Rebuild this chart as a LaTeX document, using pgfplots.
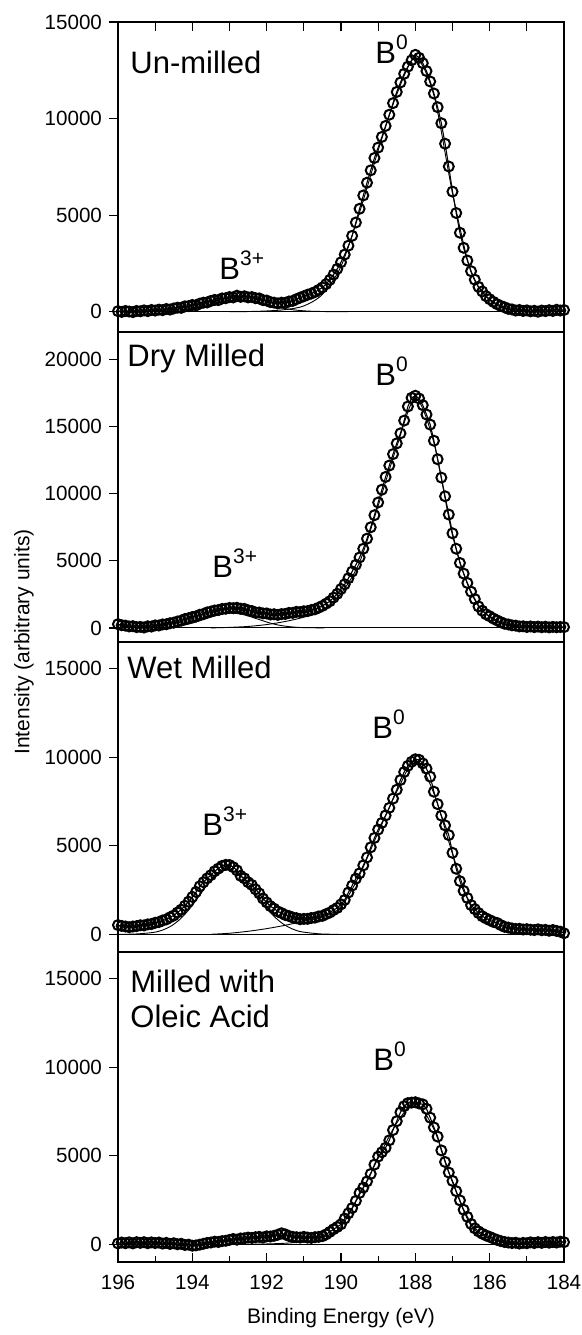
\documentclass[border=0pt]{standalone}
\usepackage{fontspec}
\setmainfont{Liberation Sans}
\usepackage{pgfplots}
\usepackage{pgfplotstable}
\pgfplotsset{compat=1.18}

\pgfplotstableread[row sep=\\]{
E y\\
196.0 30\\195.9 -10\\195.8 40\\195.7 10\\195.6 -20\\195.5 40\\195.4 20\\195.3 70\\195.2 30\\195.1 90\\
195.0 60\\194.9 110\\194.8 80\\194.7 140\\194.6 110\\194.5 170\\194.4 210\\194.3 200\\194.2 280\\194.1 290\\
194.0 350\\193.9 330\\193.8 420\\193.7 470\\193.6 480\\193.5 560\\193.4 610\\193.3 600\\193.2 690\\193.1 700\\
193.0 760\\192.9 740\\192.8 830\\192.7 770\\192.6 800\\192.5 740\\192.4 760\\192.3 700\\192.2 690\\192.1 600\\
192.0 580\\191.9 500\\191.8 470\\191.7 430\\191.6 470\\191.5 460\\191.4 530\\191.3 560\\191.2 650\\191.1 730\\
191.0 800\\190.9 880\\190.8 940\\190.7 1020\\190.6 1130\\190.5 1260\\190.4 1430\\190.3 1650\\190.2 1920\\190.1 2220\\
190.0 2560\\189.9 2960\\189.8 3420\\189.7 3930\\189.6 4620\\189.5 5330\\189.4 6020\\189.3 6680\\189.2 7320\\189.1 7960\\
189.0 8500\\188.9 9050\\188.8 9620\\188.7 10200\\188.6 10800\\188.5 11380\\188.4 11870\\188.3 12320\\188.2 12690\\188.1 13020\\
188.0 13300\\187.9 13150\\187.8 12870\\187.7 12460\\187.6 11920\\187.5 11300\\187.4 10590\\187.3 9760\\187.2 8700\\187.1 7520\\
187.0 6220\\186.9 5110\\186.8 4090\\186.7 3310\\186.6 2650\\186.5 2100\\186.4 1660\\186.3 1290\\186.2 1050\\186.1 810\\
186.0 650\\185.9 510\\185.8 390\\185.7 300\\185.6 230\\185.5 150\\185.4 120\\185.3 60\\185.2 90\\185.1 40\\
185.0 70\\184.9 20\\184.8 50\\184.7 0\\184.6 60\\184.5 30\\184.4 80\\184.3 40\\184.2 100\\184.1 60\\184.0 90\\
}\dA

\pgfplotstableread[row sep=\\]{
E y\\
196.0 280\\195.9 200\\195.8 170\\195.7 110\\195.6 130\\195.5 60\\195.4 80\\195.3 30\\195.2 120\\195.1 100\\
195.0 190\\194.9 180\\194.8 260\\194.7 270\\194.6 350\\194.5 390\\194.4 480\\194.3 540\\194.2 660\\194.1 720\\
194.0 810\\193.9 860\\193.8 980\\193.7 1040\\193.6 1160\\193.5 1220\\193.4 1300\\193.3 1330\\193.2 1410\\193.1 1430\\
193.0 1490\\192.9 1470\\192.8 1500\\192.7 1430\\192.6 1420\\192.5 1310\\192.4 1260\\192.3 1150\\192.2 1150\\192.1 1080\\
192.0 1080\\191.9 1000\\191.8 1020\\191.7 970\\191.6 1030\\191.5 1040\\191.4 1120\\191.3 1120\\191.2 1200\\191.1 1180\\
191.0 1240\\190.9 1250\\190.8 1330\\190.7 1390\\190.6 1510\\190.5 1640\\190.4 1810\\190.3 1990\\190.2 2260\\190.1 2540\\
190.0 2900\\189.9 3250\\189.8 3700\\189.7 4200\\189.6 4700\\189.5 5250\\189.4 5900\\189.3 6650\\189.2 7500\\189.1 8400\\
189.0 9350\\188.9 10300\\188.8 11250\\188.7 12100\\188.6 12950\\188.5 13750\\188.4 14500\\188.3 15450\\188.2 16500\\188.1 17150\\
188.0 17300\\187.9 17100\\187.8 16600\\187.7 15900\\187.6 15150\\187.5 13950\\187.4 12570\\187.3 11200\\187.2 9810\\187.1 8450\\
187.0 7050\\186.9 5900\\186.8 4840\\186.7 4050\\186.6 3350\\186.5 2700\\186.4 2150\\186.3 1600\\186.2 1280\\186.1 1020\\
186.0 870\\185.9 700\\185.8 560\\185.7 430\\185.6 310\\185.5 260\\185.4 190\\185.3 170\\185.2 110\\185.1 120\\
185.0 70\\184.9 110\\184.8 60\\184.7 100\\184.6 50\\184.5 90\\184.4 40\\184.3 80\\184.2 50\\184.1 70\\184.0 60\\
}\dB

\pgfplotstableread[row sep=\\]{
E y\\
196.0 520\\195.9 470\\195.8 440\\195.7 400\\195.6 440\\195.5 460\\195.4 510\\195.3 500\\195.2 560\\195.1 580\\
195.0 650\\194.9 690\\194.8 780\\194.7 840\\194.6 960\\194.5 1060\\194.4 1230\\194.3 1390\\194.2 1610\\194.1 1840\\
194.0 2110\\193.9 2390\\193.8 2710\\193.7 2940\\193.6 3160\\193.5 3340\\193.4 3560\\193.3 3710\\193.2 3860\\193.1 3920\\
193.0 3910\\192.9 3790\\192.8 3610\\192.7 3300\\192.6 3160\\192.5 2940\\192.4 2790\\192.3 2540\\192.2 2310\\192.1 2020\\
192.0 1800\\191.9 1590\\191.8 1450\\191.7 1290\\191.6 1200\\191.5 1090\\191.4 1030\\191.3 950\\191.2 910\\191.1 850\\
191.0 870\\190.9 870\\190.8 920\\190.7 940\\190.6 1010\\190.5 1040\\190.4 1140\\190.3 1230\\190.2 1370\\190.1 1490\\
190.0 1690\\189.9 1940\\189.8 2360\\189.7 2750\\189.6 3140\\189.5 3440\\189.4 3890\\189.3 4340\\189.2 4910\\189.1 5440\\
189.0 5910\\188.9 6290\\188.8 6710\\188.7 7140\\188.6 7660\\188.5 8160\\188.4 8710\\188.3 9160\\188.2 9510\\188.1 9740\\
188.0 9880\\187.9 9850\\187.8 9650\\187.7 9350\\187.6 8900\\187.5 8050\\187.4 7350\\187.3 6700\\187.2 6150\\187.1 5600\\
187.0 4600\\186.9 3700\\186.8 3000\\186.7 2450\\186.6 2050\\186.5 1650\\186.4 1420\\186.3 1200\\186.2 1020\\186.1 900\\
186.0 800\\185.9 700\\185.8 640\\185.7 520\\185.6 420\\185.5 380\\185.4 330\\185.3 300\\185.2 310\\185.1 270\\
185.0 290\\184.9 260\\184.8 240\\184.7 280\\184.6 230\\184.5 250\\184.4 200\\184.3 240\\184.2 190\\184.1 150\\184.0 60\\
}\dC

\pgfplotstableread[row sep=\\]{
E y\\
196.0 50\\195.9 100\\195.8 60\\195.7 110\\195.6 50\\195.5 120\\195.4 80\\195.3 120\\195.2 60\\195.1 110\\
195.0 70\\194.9 100\\194.8 40\\194.7 80\\194.6 20\\194.5 60\\194.4 0\\194.3 30\\194.2 -40\\194.1 -20\\
194.0 -80\\193.9 -60\\193.8 -20\\193.7 30\\193.6 80\\193.5 100\\193.4 150\\193.3 130\\193.2 180\\193.1 200\\
193.0 250\\192.9 300\\192.8 260\\192.7 330\\192.6 340\\192.5 380\\192.4 360\\192.3 400\\192.2 420\\192.1 380\\
192.0 450\\191.9 440\\191.8 480\\191.7 540\\191.6 620\\191.5 560\\191.4 470\\191.3 420\\191.2 400\\191.1 380\\
191.0 420\\190.9 380\\190.8 360\\190.7 400\\190.6 420\\190.5 460\\190.4 560\\190.3 700\\190.2 850\\190.1 980\\
190.0 1130\\189.9 1450\\189.8 1750\\189.7 2050\\189.6 2450\\189.5 2900\\189.4 3200\\189.3 3550\\189.2 3970\\189.1 4500\\
189.0 4950\\188.9 5200\\188.8 5450\\188.7 5870\\188.6 6450\\188.5 6950\\188.4 7450\\188.3 7800\\188.2 7970\\188.1 8000\\
188.0 8020\\187.9 7950\\187.8 7900\\187.7 7650\\187.6 7150\\187.5 6600\\187.4 6080\\187.3 5300\\187.2 4650\\187.1 4050\\
187.0 3580\\186.9 3000\\186.8 2480\\186.7 1950\\186.6 1550\\186.5 1150\\186.4 900\\186.3 730\\186.2 600\\186.1 500\\
186.0 420\\185.9 330\\185.8 250\\185.7 180\\185.6 130\\185.5 100\\185.4 70\\185.3 90\\185.2 40\\185.1 80\\
185.0 60\\184.9 110\\184.8 70\\184.7 120\\184.6 80\\184.5 130\\184.4 90\\184.3 130\\184.2 100\\184.1 150\\184.0 120\\
}\dD

\pgfplotsset{
  panel/.style={
    width=223pt, height=155pt, scale only axis,
    x dir=reverse, xmin=184, xmax=196,
    clip=false,
    axis line style={line width=0.75pt},
    ytick pos=left, ytick align=outside, xtick align=inside,
    major tick length=4.5pt, minor tick length=3.2pt,
    every tick/.append style={black, line width=0.65pt},
    ticklabel style={font=\fontsize{10.3}{12}\selectfont},
    /pgf/number format/assume math mode=true,
    /pgf/number format/set thousands separator={},
    scaled y ticks=false,
  },
  dat/.style={only marks, mark=o, mark size=2.5pt, mark options={line width=1pt, black}},
  fitl/.style={black, line width=0.55pt, no marks},
  comp/.style={black, line width=0.45pt, no marks, smooth},
}

\newcommand{\lab}[1]{\fontsize{15.5}{17}\selectfont #1}
\newcommand{\Bz}{\fontsize{15.5}{17}\selectfont B\raisebox{7pt}{\fontsize{10.5}{11}\selectfont 0}}
\newcommand{\Bt}{\fontsize{15.5}{17}\selectfont B\raisebox{7pt}{\fontsize{10.5}{11}\selectfont 3+}}

\begin{document}
\begin{tikzpicture}
\path[use as bounding box] (0pt,0pt) rectangle (291pt,-667.5pt);

% Panel 1: Un-milled
\begin{axis}[panel, at={(59pt,-11pt)}, anchor=north west,
  ymin=-1050, ymax=15000, ytick={0,5000,10000,15000},
  xtick={184,185,...,196}, xtick pos=right, xticklabels={}, minor xtick={}]
\addplot[fitl] coordinates {(196,0) (184,0)};
\addplot[comp] coordinates {(195.8,0) (195.3,5) (194.8,26) (194.55,55) (194.3,103) (194.05,177) (193.8,275) (193.55,387) (193.3,494) (193.05,571) (192.8,600) (192.55,571) (192.3,494) (192.05,387) (191.8,275) (191.55,177) (191.3,103) (191.05,55) (190.8,26) (190.3,5) (189.8,0)};
\addplot[comp] coordinates {(193.0,0) (192.5,10) (192.0,40) (191.5,110) (191.0,300) (190.5,900) (190.0,2350) (189.5,5150) (189.0,8350) (188.5,11250) (188.0,13150) (187.5,11200) (187.0,6150) (186.5,2050) (186.0,600) (185.5,120) (185.0,10) (184.5,0)};
\addplot[fitl] table[x=E,y=y]{\dA};
\addplot[dat] table[x=E,y=y]{\dA};
\end{axis}

% Panel 2: Dry milled
\begin{axis}[panel, at={(59pt,-166pt)}, anchor=north west,
  ymin=-1050, ymax=22050, ytick={0,5000,10000,15000,20000},
  xtick=\empty, minor xtick={}]
\addplot[fitl] coordinates {(196,0) (184,0)};
\addplot[comp] coordinates {(195.45,2) (194.95,19) (194.7,48) (194.45,111) (194.2,223) (193.95,396) (193.7,620) (193.45,852) (193.2,1032) (192.95,1100) (192.7,1032) (192.45,852) (192.2,620) (191.95,396) (191.7,223) (191.45,111) (191.2,48) (190.95,19) (190.45,2)};
\addplot[comp] coordinates {(193.5,0) (193.0,40) (192.5,110) (192.0,250) (191.5,480) (191.0,800) (190.5,1300) (190.0,2550) (189.5,4900) (189.0,9100) (188.5,13500) (188.0,17100) (187.5,13800) (187.0,6900) (186.5,2600) (186.0,800) (185.5,180) (185.0,30) (184.5,0)};
\addplot[fitl] table[x=E,y=y]{\dB};
\addplot[dat] table[x=E,y=y]{\dB};
\end{axis}

% Panel 3: Wet milled
\begin{axis}[panel, at={(59pt,-321pt)}, anchor=north west,
  ymin=-1000, ymax=16500, ytick={0,5000,10000,15000},
  xtick=\empty, minor xtick={}]
\addplot[fitl] coordinates {(196,0) (184,0)};
\addplot[comp] coordinates {(196.05,0) (195.55,14) (195.05,104) (194.8,240) (194.55,494) (194.3,910) (194.05,1500) (193.8,2214) (193.55,2923) (193.3,3453) (193.05,3650) (192.8,3467) (192.55,2973) (192.3,2299) (192.05,1605) (191.8,1011) (191.55,575) (191.3,295) (191.05,136) (190.55,21) (190.05,0)};
\addplot[comp] coordinates {(193.5,0) (193.0,60) (192.5,170) (192.0,320) (191.5,510) (191.0,740) (190.5,990) (190.0,1550) (189.5,3350) (189.0,5750) (188.5,8050) (188.0,9800) (187.5,7950) (187.0,4550) (186.5,1550) (186.0,600) (185.5,180) (185.0,40) (184.5,0)};
\addplot[fitl] table[x=E,y=y]{\dC};
\addplot[dat] table[x=E,y=y]{\dC};
\end{axis}

% Panel 4: Milled with oleic acid
\begin{axis}[panel, at={(59pt,-476pt)}, anchor=north west,
  ymin=-1000, ymax=16500, ytick={0,5000,10000,15000},
  xtick={184,186,...,196}, minor xtick={185,187,...,195}, xtick pos=left,
  xticklabel style={yshift=-3pt}]
\addplot[fitl] coordinates {(196,0) (184,0)};
\addplot[comp] coordinates {(192.5,0) (192.0,20) (191.5,60) (191.0,150) (190.5,380) (190.0,1000) (189.5,2800) (189.0,4850) (188.5,6850) (188.0,7950) (187.5,6500) (187.0,3500) (186.5,1050) (186.0,330) (185.5,60) (185.0,0)};
\addplot[fitl] table[x=E,y=y]{\dD};
\addplot[dat] table[x=E,y=y]{\dD};
\end{axis}

% panel names
\node[anchor=base west, inner sep=0] at (65pt,-36.5pt) {\lab{Un-milled}};
\node[anchor=base west, inner sep=0] at (63.5pt,-183pt) {\lab{Dry Milled}};
\node[anchor=base west, inner sep=0] at (63.5pt,-339pt) {\lab{Wet Milled}};
\node[anchor=base west, inner sep=0] at (65pt,-496pt) {\lab{Milled with}};
\node[anchor=base west, inner sep=0] at (65pt,-513.5pt) {\lab{Oleic Acid}};
% peak labels
\node[anchor=base west, inner sep=0] at (187.5pt,-31.5pt) {\Bz};
\node[anchor=base west, inner sep=0] at (109.5pt,-139.5pt) {\Bt};
\node[anchor=base west, inner sep=0] at (187.5pt,-192.5pt) {\Bz};
\node[anchor=base west, inner sep=0] at (106pt,-288.5pt) {\Bt};
\node[anchor=base west, inner sep=0] at (186pt,-369pt) {\Bz};
\node[anchor=base west, inner sep=0] at (101pt,-417.5pt) {\Bt};
\node[anchor=base west, inner sep=0] at (186.5pt,-535pt) {\Bz};
% axis labels
\node[anchor=base, inner sep=0, font=\fontsize{10.5}{12}\selectfont] at (170.5pt,-661.5pt) {Binding Energy (eV)};
\node[rotate=90, inner sep=0, font=\fontsize{10.5}{12}\selectfont] at (12pt,-321pt) {Intensity (arbitrary units)};
\end{tikzpicture}
\end{document}
